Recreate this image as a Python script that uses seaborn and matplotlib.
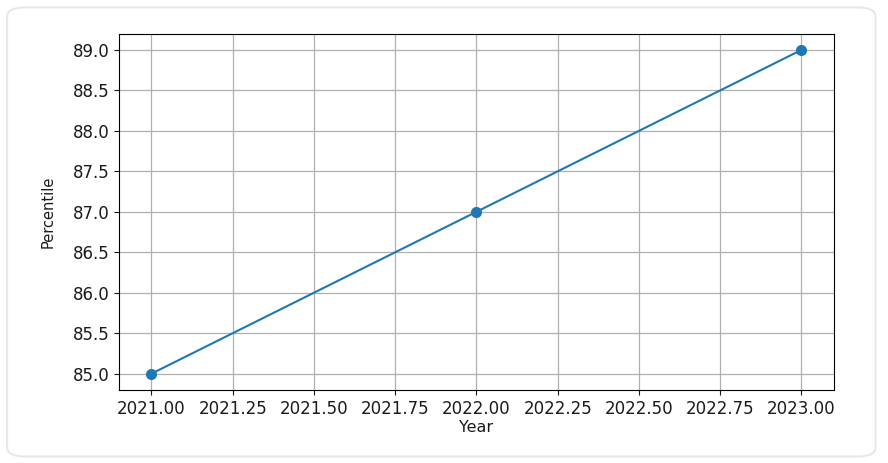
import matplotlib
matplotlib.use("Agg")
import matplotlib.pyplot as plt
from matplotlib.patches import FancyBboxPatch
from matplotlib.ticker import MultipleLocator
import pandas as pd
import seaborn as sns

# values
years = [2021, 2022, 2023]
percentile = [85, 87, 89]

df = pd.DataFrame({"Year": years, "Percentile": percentile})

fig = plt.figure(figsize=(8.88, 4.63), dpi=100)

# light rounded card behind the plot
card = FancyBboxPatch((0.008, 0.014), 0.978, 0.97,
                      boxstyle="round,pad=0,rounding_size=0.02",
                      transform=fig.transFigure, facecolor="white",
                      edgecolor="#e8e8e8", linewidth=1.5, zorder=-10)
fig.patches.append(card)

ax = fig.add_axes([0.134, 0.158, 0.805, 0.769])
sns.lineplot(data=df, x="Year", y="Percentile", marker="o", markersize=8,
             markeredgewidth=0, color="#1f77b4", linewidth=1.5, ax=ax)

ax.xaxis.set_major_locator(MultipleLocator(0.25))
ax.xaxis.set_major_formatter(plt.FormatStrFormatter("%.2f"))
ax.yaxis.set_major_locator(MultipleLocator(0.5))
ax.yaxis.set_major_formatter(plt.FormatStrFormatter("%.1f"))
ax.set_xlim(2020.9, 2023.1)
ax.set_ylim(84.8, 89.2)
ax.grid(True, color="#b0b0b0", linewidth=0.9)
ax.set_axisbelow(True)
ax.tick_params(labelsize=12, colors="#1a1a1a")
ax.set_xlabel("Year", fontsize=11.5, color="#1a1a1a", labelpad=2)
ax.set_ylabel("Percentile", fontsize=10.5, color="#1a1a1a", labelpad=12)
for s in ax.spines.values():
    s.set_color("black")

fig.savefig("out.png", dpi=100)
